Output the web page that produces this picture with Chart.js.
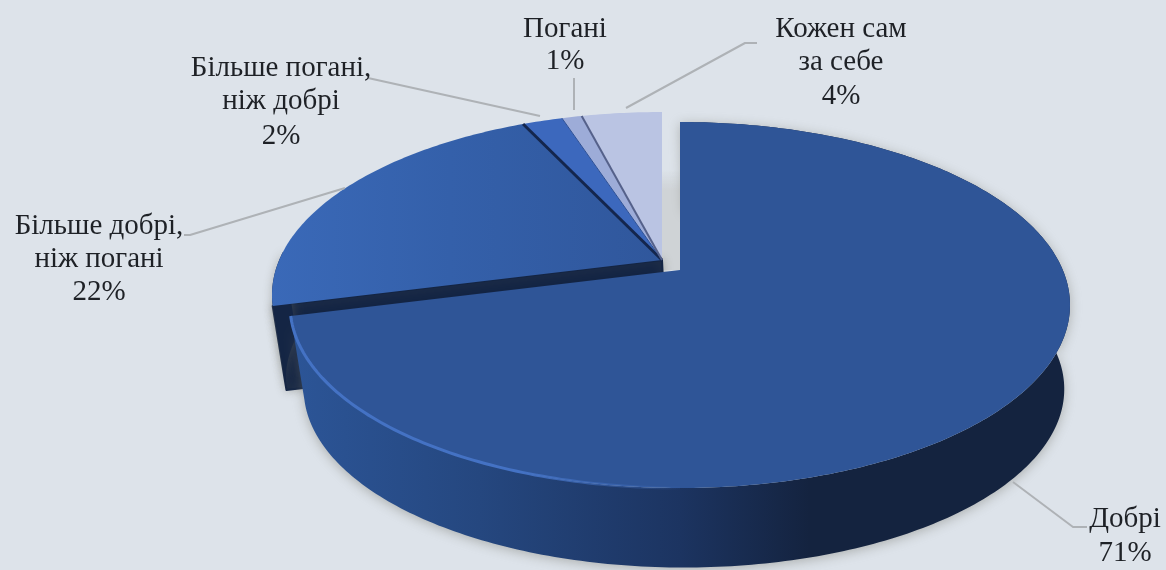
<!DOCTYPE html>
<html lang="uk">
<head>
<meta charset="utf-8">
<title>Pie</title>
<script src="https://cdn.jsdelivr.net/npm/chart.js@4"></script>
<style>
html,body{margin:0;padding:0;background:#dde3ea;}
#wrap{width:1166px;height:570px;overflow:hidden;}
canvas{display:block;filter:blur(0.7px);}
</style>
</head>
<body>
<div id="wrap"><canvas id="c" width="1166" height="570"></canvas></div>
<script>
// ---- data ----
const categories = ["Добрі", "Більше добрі, ніж погані", "Більше погані, ніж добрі", "Погані", "Кожен сам за себе"];
const shares = [71, 22, 2, 1, 4];
const labelLines = [
  ["Добрі", "71%"],
  ["Більше добрі,", "ніж погані", "22%"],
  ["Більше погані,", "ніж добрі", "2%"],
  ["Погані", "1%"],
  ["Кожен сам", "за себе", "4%"]
];
const sliceColors = ["#2f5597", "#3460aa", "#3c68bd", "#9dacd8", "#bac4e3"];
const sliceEdgeColors = ["#2f5597", "#14264d", "#2c4f94", "#55618a", "#bac4e3"];
const sliceEdgeWidths = [0, 3, 1, 2, 0];

// ---- layout (not data) ----
const labelX = [1125, 99, 281, 565, 841];
const labelY = [[519, 553], [226, 259, 292], [68, 101, 136], [29, 61], [29, 62, 96]];
const leaders = [
  [[1087, 527], [1073, 527], [1013, 482]],
  [[184, 235], [190, 235], [345, 188]],
  [[368, 78], [540, 116]],
  [[574, 78], [574, 110]],
  [[757, 43], [745, 43], [626, 108]]
];
const TIP = {x: 662, y: 260};
const sliceShift = [[18, 10], [0, 0], [0, 0], [0, 0], [0, 0]];
const A = 382.8, B = 176.3, K = 0.1913, DEPTH = 85, BASE_SCALE = 0.975, BASE_DX = 4;

function project(angle, i, r, low) {
  const x = Math.cos(angle) * r, y = Math.sin(angle) * r;
  const w = 1 - K * y;
  const s = low ? BASE_SCALE : 1;
  return {
    x: TIP.x + sliceShift[i][0] + A * x / w * s + (low ? BASE_DX : 0),
    y: TIP.y + sliceShift[i][1] + B * y / w * s + (low ? DEPTH : 0)
  };
}
function arcPoints(a0, a1, i, low) {
  const n = Math.max(2, Math.ceil(Math.abs(a1 - a0) / 0.015));
  const out = [];
  for (let j = 0; j <= n; j++) out.push(project(a0 + (a1 - a0) * j / n, i, 1, low));
  return out;
}
function trace(ctx, pts) {
  ctx.beginPath();
  pts.forEach((p, j) => j ? ctx.lineTo(p.x, p.y) : ctx.moveTo(p.x, p.y));
  ctx.closePath();
}
function hGrad(ctx, stops) {
  const x0 = stops[0][0], x1 = stops[stops.length - 1][0];
  const g = ctx.createLinearGradient(x0, 0, x1, 0);
  stops.forEach(s => g.addColorStop((s[0] - x0) / (x1 - x0), s[1]));
  return g;
}

const pie3d = {
  id: "pie3d",
  beforeDatasetsDraw(chart) {
    const ctx = chart.ctx;
    const arcs = chart.getDatasetMeta(0).data;
    ctx.save();

    // soft strip beside the detached slice
    const t4 = project(0, 4, 0, false), t0 = project(0, 0, 0, false);
    const sg = ctx.createLinearGradient(0, t4.y - 90, 0, t4.y - 70);
    sg.addColorStop(0, "rgba(205,209,213,0)");
    sg.addColorStop(1, "#cfd3d6");
    ctx.fillStyle = sg;
    ctx.fillRect(t4.x, t4.y - 90, t0.x - t4.x, t0.y - t4.y + 90);

    // second slice: outer wall and cut face
    const s1 = arcs[1];
    const c0 = project(s1.startAngle, 1, 1, false), c0b = project(s1.startAngle, 1, 1, true);
    const tb = project(0, 1, 0, true), tt = project(0, 1, 0, false);
    ctx.fillStyle = "#142544";
    ctx.strokeStyle = "#142544";
    ctx.lineWidth = 2;
    ctx.lineJoin = "round";
    ctx.shadowColor = "rgba(110,110,100,.4)";
    ctx.shadowBlur = 10;
    trace(ctx, [tt, c0, c0b, tb]);
    ctx.fill();
    ctx.stroke();
    const wallEnd = s1.startAngle + 0.3;
    trace(ctx, arcPoints(s1.startAngle, wallEnd, 1, false).concat(arcPoints(wallEnd, s1.startAngle, 1, true)));
    ctx.fill();
    ctx.shadowBlur = 0;

    // top faces of the small slices, back to front
    for (let i = 4; i >= 1; i--) {
      const el = arcs[i];
      const pts = [project(0, i, 0, false)].concat(arcPoints(el.startAngle, el.endAngle, i, false));
      trace(ctx, pts);
      ctx.fillStyle = i === 1
        ? hGrad(ctx, [[272, "#3a69b8"], [450, "#3460aa"], [662, "#30579c"]])
        : el.options.backgroundColor;
      ctx.fill();
    }
    for (let i = 1; i <= 3; i++) {
      const el = arcs[i], w = sliceEdgeWidths[i];
      if (!w) continue;
      const p = project(el.endAngle, i, 1, false), t = project(0, i, 0, false);
      ctx.strokeStyle = sliceEdgeColors[i];
      ctx.lineWidth = w;
      ctx.beginPath(); ctx.moveTo(t.x, t.y); ctx.lineTo(p.x, p.y); ctx.stroke();
    }

    // main slice: wall, then top face, then rim light
    const m = arcs[0];
    const top = arcPoints(m.startAngle, m.endAngle, 0, false);
    const low = arcPoints(m.endAngle, m.startAngle, 0, true);
    ctx.shadowColor = "rgba(110,110,100,.45)";
    ctx.shadowBlur = 12;
    ctx.shadowOffsetY = 2;
    trace(ctx, top.concat(low));
    ctx.fillStyle = hGrad(ctx, [[290, "#2c5597"], [480, "#25477f"], [680, "#1c3461"], [810, "#14233f"], [1075, "#14233f"]]);
    ctx.fill();
    ctx.shadowBlur = 0; ctx.shadowOffsetY = 0;

    trace(ctx, [project(0, 0, 0, false)].concat(top));
    ctx.fillStyle = m.options.backgroundColor;
    ctx.fill();

    const rim = arcPoints(m.endAngle, Math.PI * 0.5, 0, false);
    ctx.beginPath();
    rim.forEach((p, j) => j ? ctx.lineTo(p.x, p.y) : ctx.moveTo(p.x, p.y));
    ctx.strokeStyle = hGrad(ctx, [[290, "#4472c4"], [520, "#4472c4"], [690, "rgba(68,114,196,0)"]]);
    ctx.lineWidth = 3;
    ctx.stroke();

    ctx.restore();
    return false;
  },
  afterDraw(chart) {
    const ctx = chart.ctx;
    ctx.save();
    ctx.strokeStyle = "#aeb2b6";
    ctx.lineWidth = 2;
    ctx.lineJoin = "round";
    leaders.forEach(l => {
      ctx.beginPath();
      l.forEach((p, j) => j ? ctx.lineTo(p[0], p[1]) : ctx.moveTo(p[0], p[1]));
      ctx.stroke();
    });
    ctx.fillStyle = "#1e2126";
    ctx.font = '29px "Liberation Serif"';
    ctx.textAlign = "center";
    ctx.textBaseline = "middle";
    labelLines.forEach((lines, i) => {
      lines.forEach((t, j) => ctx.fillText(t, labelX[i], labelY[i][j]));
    });
    ctx.restore();
  }
};

new Chart(document.getElementById("c"), {
  type: "pie",
  data: {
    labels: categories,
    datasets: [{
      data: shares,
      backgroundColor: sliceColors,
      borderColor: sliceEdgeColors,
      borderWidth: 0
    }]
  },
  options: {
    responsive: false,
    animation: false,
    rotation: 0,
    plugins: {legend: {display: false}, tooltip: {enabled: false}}
  },
  plugins: [pie3d]
});
</script>
</body>
</html>
